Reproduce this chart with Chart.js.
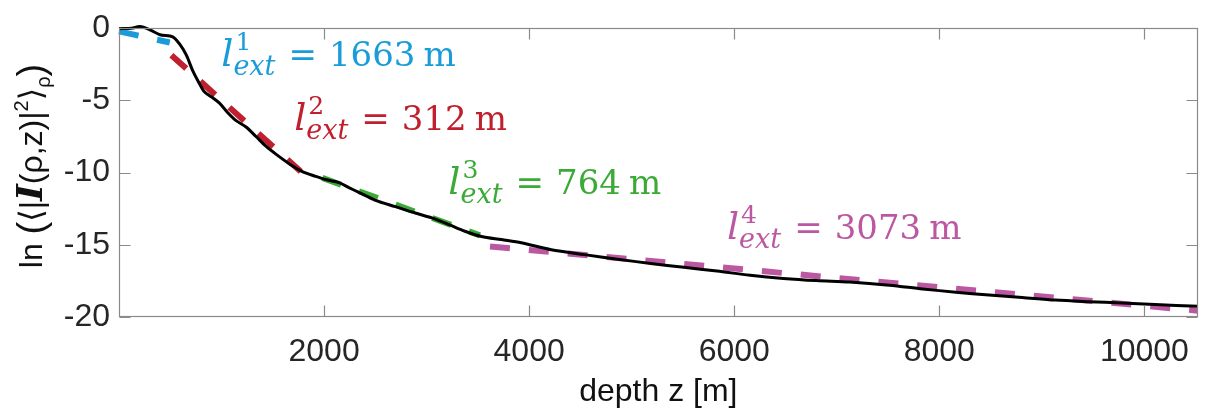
<!DOCTYPE html>
<html>
<head>
<meta charset="utf-8">
<script src="https://cdn.jsdelivr.net/npm/chart.js@4.4.1/dist/chart.umd.min.js"></script>
<style>
  html, body { margin: 0; padding: 0; background: #fff; }
</style>
</head>
<body>
<canvas id="chart" width="1205" height="416"></canvas>
<script>
// ---- data ----
const depth = [0, 123, 204, 301, 400, 524, 592, 657, 721, 786, 835, 900, 980, 1061, 1142, 1239,
    1336, 1433, 1530, 1659, 1788, 1919, 2016, 2145, 2242, 2339, 2501, 2695, 2889, 3050, 3212,
    3374, 3535, 3729, 3923, 4215, 4538, 4862, 5185, 5509, 5832, 6155, 6479, 6802, 7126,
    7514, 7838, 8161, 8484, 8808, 9131, 9455, 9779, 10102, 10520];
const lnI = [-0.03, 0.0, 0.11, -0.11, -0.45, -0.60, -1.11, -1.87, -2.98, -3.86, -4.42, -4.75,
    -5.19, -5.85, -6.40, -6.84, -7.50, -8.17, -8.72, -9.38, -9.93, -10.26, -10.48, -10.70,
    -11.04, -11.37, -11.92, -12.36, -12.80, -13.13, -13.58, -14.06, -14.42, -14.64, -14.86,
    -15.34, -15.68, -16.00, -16.29, -16.56, -16.82, -17.11, -17.33, -17.48, -17.58,
    -17.80, -18.06, -18.28, -18.48, -18.65, -18.83, -18.94, -19.03, -19.14, -19.25];

// linear fits (start / end of each segment)
const fitNames = ['1', '2', '3', '4'];
const fitLength = [1663, 312, 764, 3073];
const fitDepth = [[0, 495], [511, 1773], [1983, 3520], [3618, 10520]];
const fitLn = [[-0.22, -0.99], [-1.87, -9.93], [-10.37, -14.35], [-15.11, -19.56]];

const xTicks = [2000, 4000, 6000, 8000, 10000];
const yTicks = [-20, -15, -10, -5, 0];

// ---- styling ----
const fitColors = ['#1A9CD8', '#C0202E', '#3BAA37', '#BC58A2'];
// where each l_ext label starts (data coords of its baseline)
const labelAnchors = [[997, -2.65], [1708, -7.07], [3212, -11.48], [5929, -14.57]];
const axisGray = '#8a8a8a';
const sans = '"Liberation Sans", Arial, "DejaVu Sans", sans-serif';
const serif = '"DejaVu Serif", serif';

Chart.defaults.font.family = sans;

const datasets = [{
    label: 'measured',
    data: depth.map((d, i) => ({ x: d, y: lnI[i] })),
    borderColor: '#000',
    borderWidth: 3,
    pointRadius: 0,
    tension: 0.3,
    clip: false,
}];
fitDepth.forEach((d, i) => {
    datasets.push({
        label: 'fit ' + fitNames[i],
        data: [{ x: d[0], y: fitLn[i][0] }, { x: d[1], y: fitLn[i][1] }],
        borderColor: fitColors[i],
        borderWidth: 6,
        borderDash: [20, 19],
        borderCapStyle: 'butt',
        pointRadius: 0,
        clip: false,
    });
});

// box around the axes with inward ticks, MATLAB style
const axesBox = {
    id: 'axesBox',
    afterDraw(chart) {
        const { ctx, chartArea: a, scales: { x, y } } = chart;
        ctx.save();
        ctx.strokeStyle = axisGray;
        ctx.lineWidth = 1.2;
        const l = Math.round(a.left) + 0.5, r = Math.round(a.right) - 0.5;
        const t = Math.round(a.top) + 0.5, b = Math.round(a.bottom) - 0.5;
        ctx.strokeRect(l, t, r - l, b - t);
        ctx.beginPath();
        xTicks.forEach(v => {
            const px = Math.round(x.getPixelForValue(v)) + 0.5;
            ctx.moveTo(px, b); ctx.lineTo(px, b - 11);
            ctx.moveTo(px, t); ctx.lineTo(px, t + 11);
        });
        yTicks.forEach(v => {
            const py = Math.round(y.getPixelForValue(v)) + 0.5;
            ctx.moveTo(l, py); ctx.lineTo(l + 11, py);
            ctx.moveTo(r, py); ctx.lineTo(r - 11, py);
        });
        ctx.stroke();
        ctx.restore();
    }
};

// l_ext^n = ... m labels
const fitLabels = {
    id: 'fitLabels',
    afterDatasetsDraw(chart) {
        const { ctx, scales: { x, y } } = chart;
        ctx.save();
        ctx.textAlign = 'left';
        ctx.textBaseline = 'alphabetic';
        labelAnchors.forEach((a, i) => {
            let px = x.getPixelForValue(a[0]);
            const py = y.getPixelForValue(a[1]);
            ctx.fillStyle = fitColors[i];
            ctx.font = 'italic 38px ' + serif;
            ctx.fillText('l', px, py);
            px += ctx.measureText('l').width + 1;
            ctx.font = '25px ' + serif;
            ctx.fillText(fitNames[i], px + 1, py - 16);
            ctx.font = 'italic 27px ' + serif;
            ctx.fillText('ext', px - 1, py + 9);
            px += ctx.measureText('ext').width + 12;
            ctx.font = '34px ' + serif;
            ctx.fillText('=', px, py);
            px += ctx.measureText('=').width + 12;
            const num = String(fitLength[i]);
            ctx.fillText(num, px, py);
            px += ctx.measureText(num).width + 8;
            ctx.fillText('m', px, py);
        });
        ctx.restore();
    }
};

// y title: ln (<|I(rho,z)|^2>_rho)
const yTitle = {
    id: 'yTitle',
    afterDraw(chart) {
        const ctx = chart.ctx;
        const f = '32px ' + sans;
        const big = '38px ' + sans;
        const small = '20px ' + sans;
        const parts = [
            ['ln ', f, 0], ['(', big, 2], ['\u27E8', f, 0], ['|', f, 0],
            ['I', 'italic bold 36px ' + serif, 0], ['(\u03C1,z)', f, 0], ['|', f, 0],
            ['2', small, -14], ['\u27E9', f, 0], ['\u03C1', small, 8], [')', big, 2]
        ];
        ctx.save();
        let total = 0;
        parts.forEach(p => { ctx.font = p[1]; total += ctx.measureText(p[0]).width; });
        ctx.translate(42, 166 + total / 2);
        ctx.rotate(-Math.PI / 2);
        ctx.fillStyle = '#111';
        ctx.textBaseline = 'alphabetic';
        let cx = 0;
        parts.forEach(p => {
            ctx.font = p[1];
            ctx.fillText(p[0], cx, p[2]);
            cx += ctx.measureText(p[0]).width;
        });
        ctx.restore();
    }
};

new Chart(document.getElementById('chart'), {
    type: 'line',
    data: { datasets },
    plugins: [axesBox, fitLabels, yTitle],
    options: {
        responsive: false,
        animation: false,
        devicePixelRatio: 1,
        layout: { padding: { top: 15, right: 2, left: 0, bottom: 0 } },
        plugins: { legend: { display: false }, tooltip: { enabled: false } },
        scales: {
            x: {
                type: 'linear',
                min: 0,
                max: 10520,
                grid: { display: false, drawTicks: false },
                border: { display: false },
                afterBuildTicks: s => { s.ticks = xTicks.map(v => ({ value: v })); },
                afterFit: s => { s.height = 99; },
                ticks: {
                    color: '#262626',
                    font: { size: 32 },
                    padding: 16,
                    maxRotation: 0,
                    callback: v => String(v),
                },
                title: {
                    display: true,
                    text: 'depth z [m]',
                    color: '#111',
                    font: { size: 32 },
                    padding: { top: 0, bottom: 5 },
                },
            },
            y: {
                type: 'linear',
                min: -20,
                max: 0,
                grid: { display: false, drawTicks: false },
                border: { display: false },
                afterBuildTicks: s => { s.ticks = yTicks.map(v => ({ value: v })); },
                afterFit: s => { s.width = 119; },
                ticks: {
                    color: '#262626',
                    font: { size: 32 },
                    padding: 9,
                },
            },
        },
    },
});
</script>
</body>
</html>
